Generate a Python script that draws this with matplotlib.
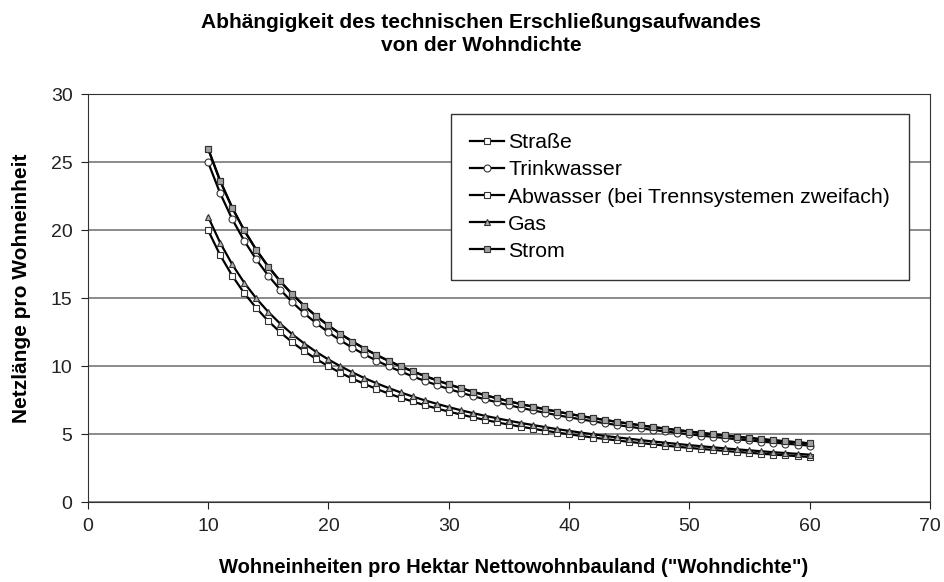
import matplotlib
matplotlib.use("Agg")
import matplotlib.pyplot as plt

plt.rcParams['font.family'] = ['Liberation Sans', 'DejaVu Sans']

# Wohndichte (WE/ha)
dichte = list(range(10, 61))

strasse = [20.00, 18.18, 16.67, 15.38, 14.29, 13.33, 12.50, 11.76, 11.11, 10.53,
           10.00, 9.52, 9.09, 8.70, 8.33, 8.00, 7.69, 7.41, 7.14, 6.90,
           6.67, 6.45, 6.25, 6.06, 5.88, 5.71, 5.56, 5.41, 5.26, 5.13,
           5.00, 4.88, 4.76, 4.65, 4.55, 4.44, 4.35, 4.26, 4.17, 4.08,
           4.00, 3.92, 3.85, 3.77, 3.70, 3.64, 3.57, 3.51, 3.45, 3.39, 3.33]
trinkwasser = [25.00, 22.73, 20.83, 19.23, 17.86, 16.67, 15.63, 14.71, 13.89, 13.16,
               12.50, 11.90, 11.36, 10.87, 10.42, 10.00, 9.62, 9.26, 8.93, 8.62,
               8.33, 8.06, 7.81, 7.58, 7.35, 7.14, 6.94, 6.76, 6.58, 6.41,
               6.25, 6.10, 5.95, 5.81, 5.68, 5.56, 5.43, 5.32, 5.21, 5.10,
               5.00, 4.90, 4.81, 4.72, 4.63, 4.55, 4.46, 4.39, 4.31, 4.24, 4.17]
abwasser = [26.00, 23.64, 21.67, 20.00, 18.57, 17.33, 16.25, 15.29, 14.44, 13.68,
            13.00, 12.38, 11.82, 11.30, 10.83, 10.40, 10.00, 9.63, 9.29, 8.97,
            8.67, 8.39, 8.13, 7.88, 7.65, 7.43, 7.22, 7.03, 6.84, 6.67,
            6.50, 6.34, 6.19, 6.05, 5.91, 5.78, 5.65, 5.53, 5.42, 5.31,
            5.20, 5.10, 5.00, 4.91, 4.81, 4.73, 4.64, 4.56, 4.48, 4.41, 4.33]
gas = [21.00, 19.09, 17.50, 16.15, 15.00, 14.00, 13.13, 12.35, 11.67, 11.05,
       10.50, 10.00, 9.55, 9.13, 8.75, 8.40, 8.08, 7.78, 7.50, 7.24,
       7.00, 6.77, 6.56, 6.36, 6.18, 6.00, 5.83, 5.68, 5.53, 5.38,
       5.25, 5.12, 5.00, 4.88, 4.77, 4.67, 4.57, 4.47, 4.38, 4.29,
       4.20, 4.12, 4.04, 3.96, 3.89, 3.82, 3.75, 3.68, 3.62, 3.56, 3.50]
strom = [26.00, 23.64, 21.67, 20.00, 18.57, 17.33, 16.25, 15.29, 14.44, 13.68,
         13.00, 12.38, 11.82, 11.30, 10.83, 10.40, 10.00, 9.63, 9.29, 8.97,
         8.67, 8.39, 8.13, 7.88, 7.65, 7.43, 7.22, 7.03, 6.84, 6.67,
         6.50, 6.34, 6.19, 6.05, 5.91, 5.78, 5.65, 5.53, 5.42, 5.31,
         5.20, 5.10, 5.00, 4.91, 4.81, 4.73, 4.64, 4.56, 4.48, 4.41, 4.33]

serien = [
    ("Straße", strasse, "s", "white"),
    ("Trinkwasser", trinkwasser, "o", "white"),
    ("Abwasser (bei Trennsystemen zweifach)", abwasser, "s", "white"),
    ("Gas", gas, "^", "#b0b0b0"),
    ("Strom", strom, "s", "#a0a0a0"),
]

fig = plt.figure(figsize=(9.44, 5.82), dpi=100)
ax = fig.add_axes([0.093, 0.137, 0.892, 0.701])

for name, werte, m, fc in serien:
    ax.plot(dichte, werte, color="black", lw=1.6, marker=m, ms=5,
            mfc=fc, mec="#333333", mew=0.8, label=name)

ax.set_xlim(0, 70)
ax.set_ylim(0, 30)
ax.set_xticks(range(0, 71, 10))
ax.set_yticks(range(0, 31, 5))
ax.yaxis.grid(True, color="#777777", lw=1.2)
ax.set_axisbelow(True)
ax.tick_params(labelsize=14, length=5, pad=6, colors="#222222")
for s in ax.spines.values():
    s.set_color("#333333")

ax.set_ylabel("Netzlänge pro Wohneinheit", fontsize=15, fontweight="bold")
ax.yaxis.set_label_coords(-0.068, 0.525)
ax.set_xlabel('Wohneinheiten pro Hektar Nettowohnbauland ("Wohndichte")',
              fontsize=14.5, fontweight="bold")
ax.xaxis.set_label_coords(0.506, -0.137)

fig.text(0.51, 0.962, "Abhängigkeit des technischen Erschließungsaufwandes",
         ha="center", va="center", fontsize=15, fontweight="bold")
fig.text(0.51, 0.922, "von der Wohndichte",
         ha="center", va="center", fontsize=15, fontweight="bold")

leg = ax.legend(loc="upper left", bbox_to_anchor=(0.431, 0.951), fontsize=15.3,
                frameon=True, fancybox=False, edgecolor="#333333", framealpha=1,
                handlelength=1.6, handletextpad=0.2, borderpad=0.9, labelspacing=0.38,
                borderaxespad=0)
leg.get_frame().set_linewidth(1.0)

fig.savefig("out.png", dpi=100)
